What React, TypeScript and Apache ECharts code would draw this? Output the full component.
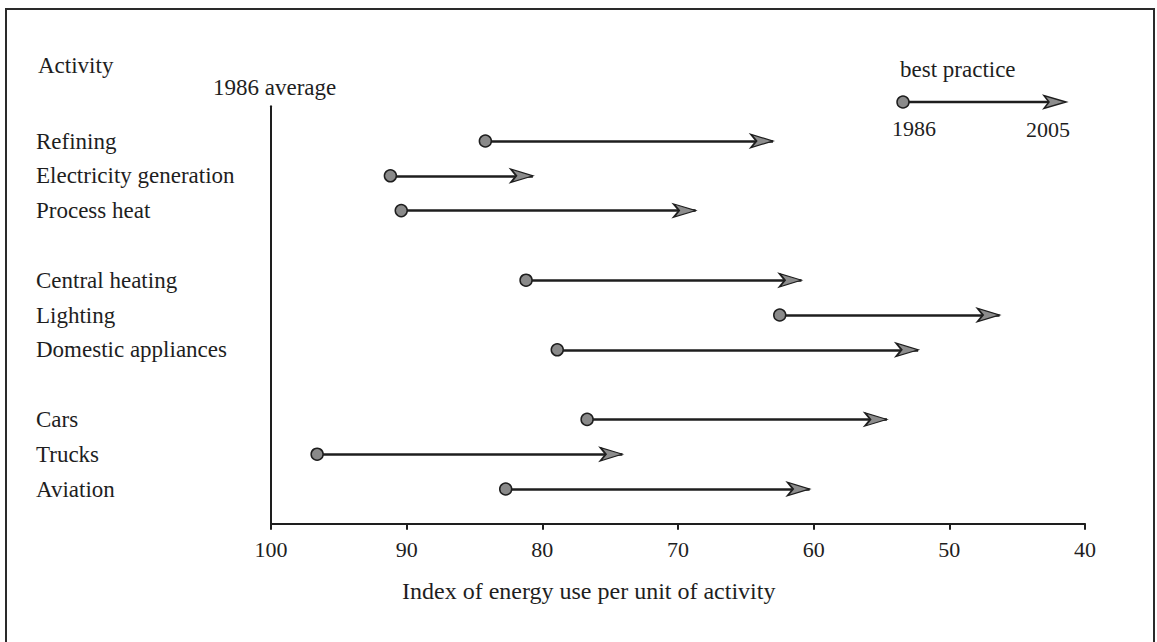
import React, { useEffect, useRef } from "react";
import * as echarts from "echarts";

const ACTIVITIES = [
  "Refining",
  "Electricity generation",
  "Process heat",
  "",
  "Central heating",
  "Lighting",
  "Domestic appliances",
  "",
  "Cars",
  "Trucks",
  "Aviation",
];
const AVG_1986 = [84.2, 91.2, 90.4, null, 81.2, 62.5, 78.9, null, 76.7, 96.6, 82.7];
const BEST_2005 = [63.0, 80.7, 68.7, null, 60.9, 46.3, 52.3, null, 54.6, 74.1, 60.3];
const X_TICKS = [40, 50, 60, 70, 80, 90, 100];

const FONT = "'Liberation Serif', 'Times New Roman', serif";
const INK = "#1e1e1e";

export default function App() {
  const ref = useRef<HTMLDivElement>(null);
  useEffect(() => {
    if (!ref.current) return;
    const chart = echarts.init(ref.current, null, { renderer: "svg" });
    const rows = ACTIVITIES.map((_, i) => i).filter((i) => AVG_1986[i] != null);
    const dots = rows.map((i) => [AVG_1986[i], i]);
    const heads = rows.map((i) => [BEST_2005[i], i]);
    const shafts = rows.map((i) => ({ coords: [[AVG_1986[i], i], [BEST_2005[i], i]] }));

    chart.setOption({
      animation: false,
      backgroundColor: "#ffffff",
      grid: { left: 271, right: 72, top: 106.2, bottom: 118.2, containLabel: false },
      xAxis: {
        type: "value",
        inverse: true,
        position: "bottom",
        min: X_TICKS[0],
        max: X_TICKS[X_TICKS.length - 1],
        interval: 10,
        splitLine: { show: false },
        axisLine: { show: true, onZero: false, lineStyle: { color: INK, width: 2 } },
        axisTick: { show: true, inside: false, length: 6, lineStyle: { color: INK, width: 2 } },
        axisLabel: {
          margin: 15,
          fontFamily: FONT,
          fontSize: 22,
          color: INK,
          formatter: (v: number) => (X_TICKS.includes(v) ? String(v) : ""),
        },
      },
      yAxis: {
        type: "value",
        inverse: true,
        position: "left",
        min: -1,
        max: 11,
        interval: 1,
        splitLine: { show: false },
        axisTick: { show: false },
        axisLine: { show: true, onZero: false, lineStyle: { color: INK, width: 2 } },
        axisLabel: {
          align: "left",
          margin: 235,
          fontFamily: FONT,
          fontSize: 23,
          color: INK,
          formatter: (v: number) => (v >= 0 && v < ACTIVITIES.length ? ACTIVITIES[v] : ""),
        },
      },
      graphic: [
        {
          type: "polyline",
          shape: { points: [[6, 660], [6, 9], [1154, 9], [1154, 660]] },
          style: { stroke: "#2a2a2a", lineWidth: 2, fill: null },
          silent: true,
        },
        {
          type: "text",
          x: 38,
          y: 65,
          style: { text: "Activity", font: `23px ${FONT}`, fill: INK, verticalAlign: "middle" },
        },
        {
          type: "text",
          x: 213,
          y: 87,
          style: { text: "1986 average", font: `23px ${FONT}`, fill: INK, verticalAlign: "middle" },
        },
        {
          type: "text",
          x: 900,
          y: 69,
          style: { text: "best practice", font: `23px ${FONT}`, fill: INK, verticalAlign: "middle" },
        },
        {
          type: "line",
          shape: { x1: 903, y1: 102, x2: 1052, y2: 102 },
          style: { stroke: INK, lineWidth: 2.5 },
        },
        {
          type: "polygon",
          shape: { points: [[1066, 102], [1044, 95.5], [1049, 102], [1044, 108.5]] },
          style: { fill: "#8c8c8c", stroke: INK, lineWidth: 1.5 },
        },
        {
          type: "circle",
          shape: { cx: 903, cy: 102, r: 6 },
          style: { fill: "#8a8a8a", stroke: INK, lineWidth: 1.5 },
        },
        {
          type: "text",
          x: 914,
          y: 128,
          style: { text: "1986", font: `22px ${FONT}`, fill: INK, align: "center", verticalAlign: "middle" },
        },
        {
          type: "text",
          x: 1048,
          y: 129,
          style: { text: "2005", font: `22px ${FONT}`, fill: INK, align: "center", verticalAlign: "middle" },
        },
        {
          type: "text",
          x: 402,
          y: 591,
          style: {
            text: "Index of energy use per unit of activity",
            font: `24px ${FONT}`,
            fill: INK,
            verticalAlign: "middle",
          },
        },
      ],
      series: [
        {
          type: "lines",
          coordinateSystem: "cartesian2d",
          symbol: ["none", "none"],
          lineStyle: { color: INK, width: 2.5, opacity: 1 },
          data: shafts,
          z: 2,
        },
        {
          type: "scatter",
          symbol: "arrow",
          symbolRotate: -90,
          symbolSize: [10, 22],
          symbolOffset: [0, 0],
          itemStyle: { color: "#8c8c8c", borderColor: INK, borderWidth: 1.5, opacity: 1 },
          data: heads,
          z: 3,
        },
        {
          type: "scatter",
          symbol: "circle",
          symbolSize: 12,
          itemStyle: { color: "#8a8a8a", borderColor: INK, borderWidth: 1.5, opacity: 1 },
          data: dots,
          z: 4,
        },
      ],
    });
    return () => chart.dispose();
  }, []);
  return (
    <div
      ref={ref}
      style={{ position: "absolute", left: 0, top: 0, width: 1157, height: 642, background: "#fff" }}
    />
  );
}
